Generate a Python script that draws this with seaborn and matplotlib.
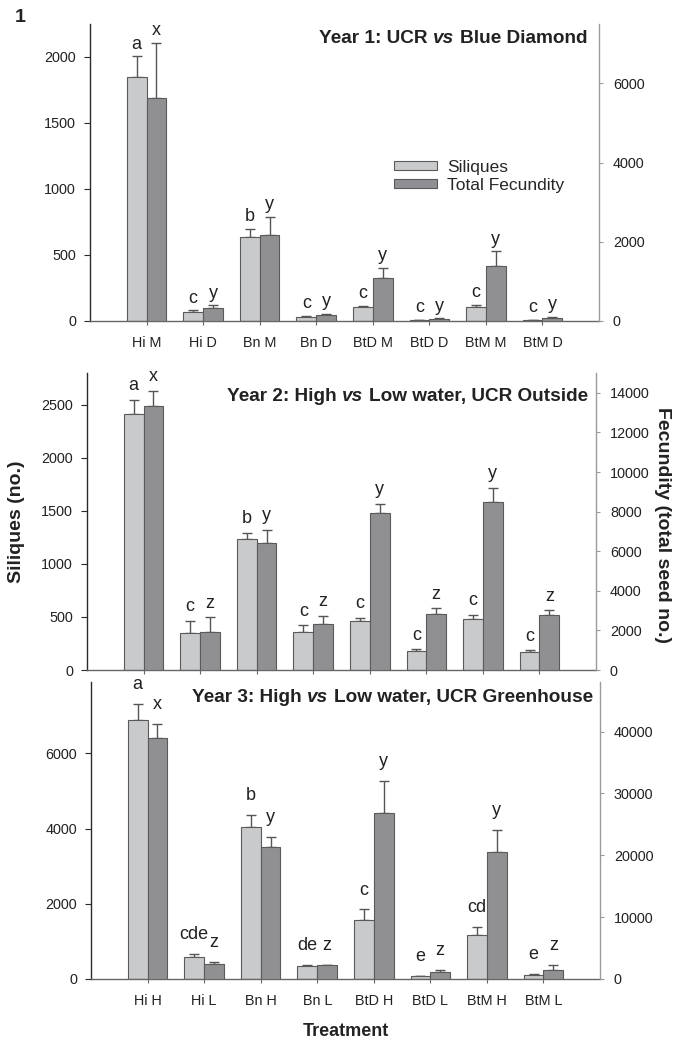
import numpy as np
import pandas as pd
import matplotlib
matplotlib.use("Agg")
import matplotlib.pyplot as plt
from matplotlib.patches import Patch, Rectangle
import seaborn as sns

# ---------------- data ----------------
series = ["Siliques", "Total Fecundity"]

cats1 = ["Hi M", "Hi D", "Bn M", "Bn D", "BtD M", "BtD D", "BtM M", "BtM D"]
sil1 = [1846, 66, 637, 30, 106, 5, 109, 8]
sil1_err = [159, 15, 63, 8, 10, 3, 12, 2]
fec1 = [5622, 320, 2166, 160, 1096, 42, 1382, 84]
fec1_err = [1399, 76, 464, 17, 244, 25, 379, 26]
let1_sil = ["a", "c", "b", "c", "c", "c", "c", "c"]
let1_fec = ["x", "y", "y", "y", "y", "y", "y", "y"]

cats2 = ["Hi M", "Hi D", "Bn M", "Bn D", "BtD M", "BtD D", "BtM M", "BtM D"]
sil2 = [2409, 347, 1236, 356, 460, 180, 482, 173]
sil2_err = [141, 116, 57, 66, 29, 15, 38, 13]
fec2 = [13339, 1939, 6408, 2310, 7926, 2833, 8499, 2799]
fec2_err = [759, 725, 658, 439, 455, 287, 692, 220]
let2_sil = ["a", "c", "b", "c", "c", "c", "c", "c"]
let2_fec = ["x", "z", "y", "z", "y", "z", "y", "z"]

cats3 = ["Hi H", "Hi L", "Bn H", "Bn L", "BtD H", "BtD L", "BtM H", "BtM L"]
sil3 = [6895, 585, 4050, 337, 1560, 71, 1161, 97]
sil3_err = [426, 80, 319, 35, 292, 18, 222, 36]
fec3 = [38871, 2473, 21290, 2204, 26882, 1129, 20484, 1505]
fec3_err = [2366, 269, 1721, 108, 5107, 323, 3656, 753]
let3_sil = ["a", "cde", "b", "de", "c", "e", "cd", "e"]
let3_fec = ["x", "z", "y", "z", "y", "z", "y", "z"]

titles = [
    ("Year 1: UCR", "vs", "Blue Diamond"),
    ("Year 2: High", "vs", "Low water, UCR Outside"),
    ("Year 3: High", "vs", "Low water, UCR Greenhouse"),
]

# ---------------- style ----------------
sns.set_theme(style="ticks")
plt.rcParams["font.family"] = ["Liberation Sans", "DejaVu Sans"]
plt.rcParams["axes.facecolor"] = "white"

LIGHT = "#c9cacc"
DARK = "#8f9094"
EDGE = "#5a5a5a"
ERR = "#555555"
pal = {"Siliques": LIGHT, "Total Fecundity": DARK}

W, H = 685, 1042
fig = plt.figure(figsize=(W / 100, H / 100), dpi=100)
fig.patch.set_facecolor("white")


def px_axes(l, r, t, b):
    return fig.add_axes([l / W, 1 - b / H, (r - l) / W, (b - t) / H])


def draw_title(ax, pieces, right_px, base_px):
    fs = 13.7
    gap = 0.278 * fs
    styles = ["normal", "italic", "normal"]
    last = ax.annotate(pieces[-1], xy=(1, 1), xycoords="axes fraction",
                       xytext=(-right_px * 0.72, -base_px * 0.72),
                       textcoords="offset points", ha="right", va="baseline",
                       fontsize=fs, fontweight="bold", fontstyle=styles[-1],
                       color="#222222")
    for txt, st in zip(reversed(pieces[:-1]), reversed(styles[:-1])):
        last = ax.annotate(txt, xy=(0, 0), xycoords=last, xytext=(-gap, 0),
                           textcoords="offset points", ha="right", va="bottom",
                           fontsize=fs, fontweight="bold", fontstyle=st,
                           color="#222222")


def bar_centers(a):
    rects = [p for p in a.patches if isinstance(p, Rectangle) and p.get_height() > 0]
    rects.sort(key=lambda p: p.get_x())
    return [p.get_x() + p.get_width() / 2 for p in rects]


def panel(box, cats, sil, sil_err, fec, fec_err, lets_s, lets_f,
          ylim_l, ylim_r, ticks_l, ticks_r, title, title_pos, let_off,
          show_xlabels=True):
    ax = px_axes(*box)
    tw = ax.twinx()
    df_s = pd.DataFrame({"Treatment": cats, "Series": "Siliques", "Value": sil})
    df_f = pd.DataFrame({"Treatment": cats, "Series": "Total Fecundity", "Value": fec})
    sns.barplot(data=df_s, x="Treatment", y="Value", hue="Series",
                hue_order=series, order=cats, palette=pal, width=0.7, dodge=True,
                errorbar=None, edgecolor=EDGE, linewidth=0.8, legend=False, ax=ax)
    sns.barplot(data=df_f, x="Treatment", y="Value", hue="Series",
                hue_order=series, order=cats, palette=pal, width=0.7, dodge=True,
                errorbar=None, edgecolor=EDGE, linewidth=0.8, legend=False, ax=tw)

    for a, vals, errs, lets in ((ax, sil, sil_err, lets_s), (tw, fec, fec_err, lets_f)):
        xs = bar_centers(a)
        a.errorbar(xs, vals, yerr=[np.zeros(len(vals)), errs], fmt="none",
                   ecolor=ERR, elinewidth=1.0, capsize=3.6, capthick=1.0, zorder=0.5)
        for x, v, e, l in zip(xs, vals, errs, lets):
            a.annotate(l, xy=(x, v + e), xytext=(0, let_off), textcoords="offset points",
                       ha="center", va="baseline", fontsize=13, color="#222222")

    ax.set_xlim(-1.0, 8.0)
    ax.set_ylim(*ylim_l)
    tw.set_ylim(*ylim_r)
    ax.set_yticks(ticks_l)
    tw.set_yticks(ticks_r)
    ax.set_xlabel("")
    ax.set_ylabel("")
    tw.set_ylabel("")
    tw.set_xlabel("")

    for s in ("top", "right"):
        ax.spines[s].set_visible(False)
    for s in ("top", "left", "bottom"):
        tw.spines[s].set_visible(False)
    ax.spines["left"].set_color("#2a2a2a")
    ax.spines["left"].set_linewidth(1.0)
    ax.spines["bottom"].set_color("#666666")
    ax.spines["bottom"].set_linewidth(1.0)
    tw.spines["right"].set_color("#9a9a9a")
    tw.spines["right"].set_linewidth(1.0)

    ax.tick_params(axis="y", direction="out", length=4.5, width=0.8, color="#2a2a2a",
                   labelsize=10.4, pad=5.5, labelcolor="#222222")
    tw.tick_params(axis="y", direction="out", length=3, width=0.8, color="#9a9a9a",
                   labelsize=10.4, pad=7, labelcolor="#222222")
    ax.tick_params(axis="x", direction="out", length=3, width=0.8, color="#666666",
                   labelsize=10.4, pad=8, labelcolor="#222222",
                   labelbottom=show_xlabels)
    draw_title(ax, title, *title_pos)
    return ax, tw


ax1, tw1 = panel((90, 599, 24, 321), cats1, sil1, sil1_err, fec1, fec1_err,
                 let1_sil, let1_fec, (0, 2250), (0, 7500),
                 [0, 500, 1000, 1500, 2000], [0, 2000, 4000, 6000],
                 titles[0], (12, 19), 5.5)
ax2, tw2 = panel((87, 596, 373, 670), cats2, sil2, sil2_err, fec2, fec2_err,
                 let2_sil, let2_fec, (0, 2800), (0, 15000),
                 [0, 500, 1000, 1500, 2000, 2500], list(range(0, 14001, 2000)),
                 titles[1], (8, 28), 7, show_xlabels=False)
ax3, tw3 = panel((91, 600, 682, 979), cats3, sil3, sil3_err, fec3, fec3_err,
                 let3_sil, let3_fec, (0, 7900), (0, 48000),
                 [0, 2000, 4000, 6000], [0, 10000, 20000, 30000, 40000],
                 titles[2], (7, 20), 10.5)

# legend
handles = [Patch(facecolor=LIGHT, edgecolor=EDGE, linewidth=0.8, label="Siliques"),
           Patch(facecolor=DARK, edgecolor=EDGE, linewidth=0.8, label="Total Fecundity")]
tw1.legend(handles=handles, loc="upper left", bbox_to_anchor=(394 / W, 1 - 160 / H),
           bbox_transform=fig.transFigure, frameon=False, fontsize=12.5,
           handlelength=2.45, handleheight=0.45, handletextpad=0.6,
           labelspacing=0.15, borderpad=0, borderaxespad=0)

# figure labels
fig.text(17 / W, 1 - 522 / H, "Siliques (no.)", rotation=90, ha="center", va="center",
         fontsize=14, fontweight="bold", color="#222222")
fig.text(663 / W, 1 - 525 / H, "Fecundity (total seed no.)", rotation=270,
         ha="center", va="center", fontsize=14, fontweight="bold", color="#222222")
fig.text(346 / W, 1 - 1031 / H, "Treatment", ha="center", va="center",
         fontsize=13, fontweight="bold", color="#222222")
fig.text(20 / W, 1 - 17 / H, "1", ha="center", va="center",
         fontsize=14, fontweight="bold", color="#222222")

fig.savefig("out.png", dpi=100, facecolor="white")
